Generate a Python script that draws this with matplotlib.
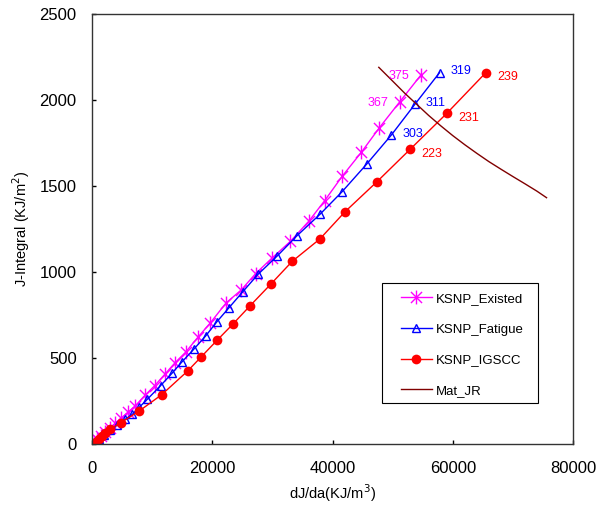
import matplotlib
matplotlib.use("Agg")
import matplotlib.pyplot as plt
from matplotlib.path import Path
from matplotlib.patches import Rectangle

plt.rcParams['font.family'] = ['Liberation Sans', 'DejaVu Sans']

# KSNP_Existed (magenta asterisks)
ex_x = [0, 400, 900, 1500, 2200, 3000, 3900, 4900, 6000, 7200, 8800, 10400, 12100, 13800,
        15600, 17600, 19700, 22300, 24800, 27200, 29900, 33000, 36100, 38700, 41600, 44800,
        47800, 51200, 54700]
ex_y = [0, 12, 28, 48, 70, 95, 122, 152, 185, 222, 283, 338, 405, 472,
        535, 620, 705, 820, 895, 990, 1080, 1178, 1297, 1415, 1556, 1696,
        1839, 1990, 2145]

# KSNP_Fatigue (blue open triangles)
fa_x = [0, 500, 1200, 2000, 3000, 4200, 5500, 6700, 7900, 9200, 11400, 13300, 14900, 16900,
        18900, 20800, 22800, 25100, 27600, 30800, 34100, 37900, 41600, 45700, 49800, 53700,
        57800]
fa_y = [0, 10, 30, 55, 80, 110, 143, 172, 215, 260, 339, 411, 475, 550,
        628, 712, 793, 886, 986, 1093, 1211, 1335, 1467, 1628, 1797, 1975,
        2159]

# KSNP_IGSCC (red filled circles)
ig_x = [0, 300, 700, 1100, 1600, 2200, 3000, 4800, 7900, 11600, 15900, 18200, 20800, 23400,
        26300, 29700, 33300, 37900, 42100, 47400, 52900, 59000, 65500]
ig_y = [0, 5, 10, 27, 47, 66, 86, 124, 193, 287, 424, 508, 603, 696,
        804, 928, 1062, 1192, 1351, 1525, 1713, 1922, 2159]

# Mat_JR (dark red curve)
jr_x = [47700, 50000, 52000, 54000, 56000, 58000, 60000, 62000, 64000, 66000, 68000,
        70000, 72000, 74000, 75600]
jr_y = [2190, 2110, 2040, 1975, 1910, 1850, 1793, 1740, 1690, 1642, 1598,
        1555, 1513, 1470, 1432]

# point annotations: (x, y, text)
ex_labels = [(54700, 2145, '375'), (51200, 1990, '367')]
fa_labels = [(57800, 2159, '319'), (53700, 1975, '311'), (49800, 1797, '303')]
ig_labels = [(65500, 2159, '239'), (59000, 1922, '231'), (52900, 1713, '223')]

x_ticks = [0, 20000, 40000, 60000, 80000]
y_ticks = [0, 500, 1000, 1500, 2000, 2500]

star = Path([(0, -1), (0, 1), (-0.8, -0.8), (0.8, 0.8), (-0.8, 0.8), (0.8, -0.8)],
            [Path.MOVETO, Path.LINETO, Path.MOVETO, Path.LINETO, Path.MOVETO, Path.LINETO])

fig = plt.figure(figsize=(6.09, 5.08), dpi=100)
ax = fig.add_axes([92/609, 64/508, 481/609, 430/508])

ax.plot(ex_x, ex_y, color='#FF00FF', lw=1, marker=star, ms=10, mew=1,
        label='KSNP_Existed')
ax.plot(fa_x, fa_y, color='#0000FF', lw=1, marker='^', ms=6, mfc='none', mew=1,
        label='KSNP_Fatigue')
ax.plot(ig_x, ig_y, color='#FF0000', lw=1, marker='o', ms=7, mew=0,
        label='KSNP_IGSCC')
ax.plot(jr_x, jr_y, color='#800000', lw=1, label='Mat_JR')

for x, y, t in ex_labels:
    ax.annotate(t, (x, y), xytext=(-8, -1), textcoords='offset points',
                ha='right', va='center', color='#FF00FF', fontsize=9)
for x, y, t in fa_labels:
    ax.annotate(t, (x, y), xytext=(8, 1), textcoords='offset points',
                ha='left', va='center', color='#0000FF', fontsize=9)
for x, y, t in ig_labels:
    ax.annotate(t, (x, y), xytext=(8, -3), textcoords='offset points',
                ha='left', va='center', color='#FF0000', fontsize=9)

ax.set_xlim(0, 80000)
ax.set_ylim(0, 2500)
ax.set_xticks(x_ticks)
ax.set_yticks(y_ticks)
ax.tick_params(direction='in', length=3, labelsize=12, width=1)
ax.tick_params(axis='y', pad=11)
ax.tick_params(axis='x', pad=12)
for s in ax.spines.values():
    s.set_linewidth(1)
    s.set_color('#333333')

ax.set_xlabel('dJ/da(KJ/m$^3$)', fontsize=10.5)
ax.set_ylabel('J-Integral (KJ/m$^2$)', fontsize=10.5)
ax.xaxis.set_label_coords(0.5, -0.088)
ax.yaxis.set_label_coords(-0.125, 0.5)

ax.add_patch(Rectangle((0.602, 0.095), 0.325, 0.279, transform=ax.transAxes,
                       facecolor='white', edgecolor='black', lw=0.8, zorder=4))
leg = ax.legend(loc='upper left', bbox_to_anchor=(0.643, 0.352), fontsize=9.5,
                frameon=False, handlelength=2.3, handletextpad=0.3,
                labelspacing=1.4, borderpad=0, borderaxespad=0)
leg.set_zorder(5)

fig.savefig('out.png', dpi=100)
